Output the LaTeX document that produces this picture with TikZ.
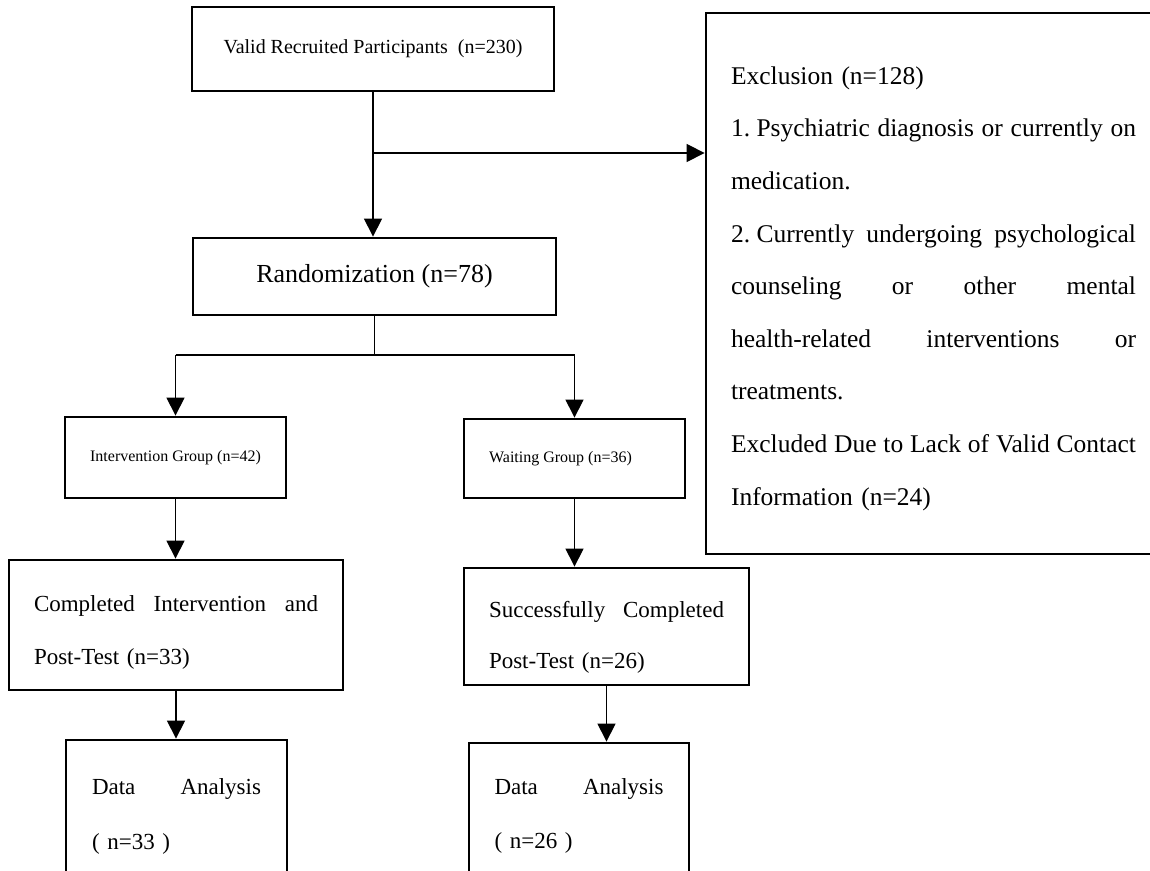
\documentclass[tikz,border=0pt]{standalone}
\usepackage{fontspec}
\setmainfont{Liberation Serif}
\usetikzlibrary{arrows.meta}
\setlength{\parindent}{0pt}
\frenchspacing
\newcommand{\fullline}[1]{\makebox[\hsize][s]{\spaceskip=0.25em plus 1fil\relax #1}}

\begin{document}
\begin{tikzpicture}[x=0.5pt,y=-0.5pt,
    >={Triangle[length=9pt,width=9pt]},
    box/.style={draw,line width=1.4pt,inner sep=0pt},
    flow/.style={line width=0.6pt}]
    \fill[white] (0,0) rectangle (1150,871);
    \useasboundingbox (0,0) rectangle (1150,871);
    \clip (0,0) rectangle (1150,871);

    \node[box,minimum width=181pt,minimum height=42pt,font=\fontsize{10}{12}\selectfont] (valid) at (373,49) {Valid Recruited Participants\ \ (n=230)};
    \node[box,minimum width=181.5pt,minimum height=38.5pt,font=\fontsize{13}{15}\selectfont] (rand) at (374.5,276.5) {Randomization (n=78)};
    \node[box,text width=202.5pt,inner xsep=12.5pt,minimum height=270.5pt,align=left,font=\fontsize{12.75}{26.3}\selectfont] (excl) at (933.5,283.5) {\rule{0pt}{14pt}Exclusion (n=128)\\
        \fullline{1.\kern0.25em Psychiatric diagnosis or currently on}\\
        medication.\\
        \fullline{2.\kern0.25em Currently undergoing psychological}\\
        \fullline{counseling or other mental}\\
        \fullline{health-related interventions or}\\
        treatments.\\
        \fullline{Excluded Due to Lack of Valid Contact}\\
        Information (n=24)};

    \node[box,minimum width=110.5pt,minimum height=40.5pt,font=\fontsize{8}{10}\selectfont] (interv) at (175.5,457.5) {Intervention Group (n=42)};
    \node[box,minimum width=110.5pt,minimum height=39.5pt,font=\fontsize{8}{10}\selectfont] (wait) at (574.5,458.5) {Waiting Group (n=36)\kern14pt};

    \node[box,minimum width=167pt,minimum height=65pt,text width=142pt,align=left,font=\fontsize{11.5}{26.5}\selectfont] (compl) at (176,625) {\fullline{\rule{0pt}{15pt}Completed Intervention and}\\Post-Test (n=33)};
    \node[box,minimum width=142.5pt,minimum height=58.5pt,text width=117.5pt,align=left,font=\fontsize{11.5}{25.5}\selectfont] (success) at (606.5,626.5) {\fullline{\rule{0pt}{19pt}Successfully Completed}\\Post-Test (n=26)};

    \node[box,minimum width=110.5pt,minimum height=70pt,text width=84.5pt,align=left,font=\fontsize{11.5}{27.5}\selectfont] (dataL) at (176.5,810) {\fullline{\rule{0pt}{14pt}Data Analysis}\\ ( n=33 )};
    \node[box,minimum width=110pt,minimum height=70pt,text width=84.5pt,align=left,font=\fontsize{11.5}{27}\selectfont] (dataR) at (579,813) {\fullline{\rule{0pt}{11pt}Data Analysis}\\ ( n=26 )};

    % connectors
    \coordinate (split) at (valid.south |- 0,153);
    \coordinate (fork) at (rand.south |- 0,355);
    \coordinate (forkL) at (interv.north |- fork);
    \coordinate (forkR) at (wait.north |- fork);
    \draw[flow,->] (valid.south) -- (valid.south |- rand.north);
    \draw[flow,->] (split) -- (split -| excl.west);
    \draw[flow] (rand.south) -- (fork);
    \draw[flow] (forkL) -- (forkR);
    \draw[flow,->] (forkL) -- (interv.north);
    \draw[flow,->] (forkR) -- (wait.north);
    \draw[flow,->] (interv.south) -- (interv.south |- compl.north);
    \draw[flow,->] (wait.south) -- (wait.south |- success.north);
    \draw[flow,->] (compl.south) -- (compl.south |- dataL.north);
    \draw[flow,->] (success.south) -- (success.south |- dataR.north);
\end{tikzpicture}
\end{document}
